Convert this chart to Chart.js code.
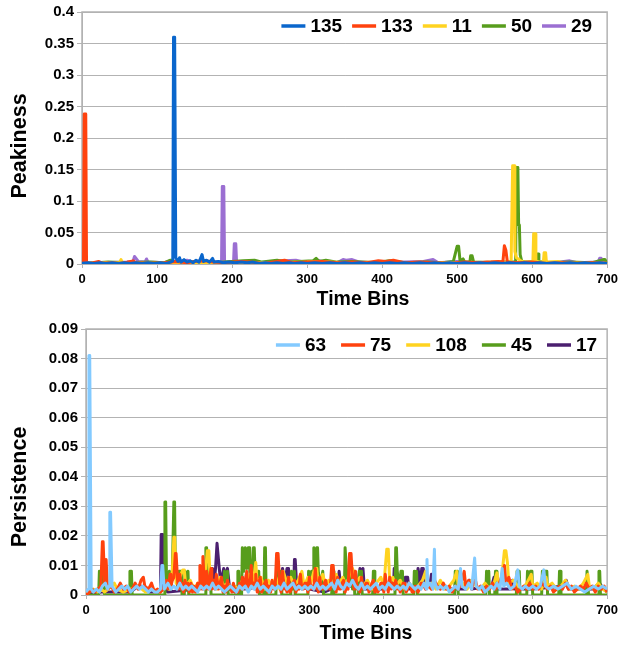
<!DOCTYPE html>
<html>
<head>
<meta charset="utf-8">
<script src="https://cdn.jsdelivr.net/npm/chart.js@4"></script>
<style>
  html, body { margin: 0; padding: 0; background: #fff; }
  #wrap { position: relative; width: 622px; height: 646px; }
  #topBox { position: absolute; left: 0; top: 0; }
  #botBox { position: absolute; left: 0; top: 310px; }
</style>
</head>
<body>
<div id="wrap">
  <div id="topBox"><canvas id="peakChart" width="622" height="310"></canvas></div>
  <div id="botBox"><canvas id="persChart" width="622" height="336"></canvas></div>
</div>
<script>
// top panel: peakiness, [time bin, value]
const peakLabels = ['135', '133', '11', '50', '29'];
const peakColors = ['#0a66cc', '#ff420e', '#ffd320', '#579d1c', '#9b6fd2'];

const peak135 = [[0,0.001],[8,0.002],[16,0.001],[24,0.002],[32,0.001],[40,0.002],[48,0.001],[56,0.002],[64,0.001],[72,0.002],[80,0.001],[88,0.002],[96,0.001],[104,0.002],[112,0.001],[118,0.003],[121,0.005],[122,0.36],[123.5,0.36],[125,0.01],[128,0.004],[130,0.010],[132,0.003],[136,0.007],[140,0.003],[144,0.005],[148,0.002],[152,0.006],[156,0.003],[160,0.015],[162,0.004],[166,0.006],[170,0.003],[174,0.009],[176,0.003],[182,0.004],[188,0.002],[196,0.003],[204,0.002],[212,0.003],[220,0.002],[228,0.003],[236,0.001],[244,0.002],[252,0.001],[260,0.002],[268,0.001],[276,0.002],[284,0.001],[292,0.002],[300,0.001],[310,0.002],[320,0.001],[330,0.002],[340,0.001],[350,0.002],[360,0.001],[370,0.002],[380,0.001],[390,0.002],[400,0.001],[410,0.002],[420,0.001],[430,0.002],[440,0.001],[450,0.002],[460,0.001],[470,0.002],[480,0.001],[490,0.002],[500,0.001],[510,0.002],[520,0.001],[530,0.002],[540,0.001],[550,0.002],[560,0.001],[570,0.002],[580,0.001],[590,0.002],[600,0.001],[610,0.002],[620,0.001],[630,0.002],[640,0.001],[650,0.002],[660,0.001],[670,0.002],[680,0.001],[690,0.002],[700,0.001]];
const peak133 = [[0,0.001],[2,0.002],[3,0.238],[5,0.238],[6,0.004],[8,0.001],[15,0.002],[22,0.004],[28,0.001],[40,0.002],[50,0.001],[60,0.003],[68,0.005],[72,0.002],[90,0.001],[110,0.002],[125,0.004],[140,0.002],[150,0.004],[165,0.005],[175,0.003],[190,0.002],[210,0.004],[225,0.003],[240,0.001],[260,0.004],[270,0.006],[280,0.002],[300,0.003],[320,0.004],[340,0.002],[360,0.003],[380,0.002],[395,0.005],[405,0.004],[415,0.006],[430,0.002],[450,0.003],[470,0.002],[490,0.001],[510,0.003],[530,0.002],[545,0.003],[555,0.004],[561,0.003],[563,0.029],[565,0.022],[567,0.003],[580,0.002],[600,0.003],[620,0.001],[640,0.002],[660,0.001],[680,0.002],[700,0.001]];
const peak11 = [[0,0.001],[30,0.002],[50,0.002],[52,0.007],[54,0.002],[100,0.001],[150,0.002],[200,0.001],[250,0.002],[300,0.003],[315,0.004],[350,0.002],[400,0.003],[450,0.002],[500,0.002],[550,0.003],[572,0.003],[574,0.156],[576,0.156],[577,0.02],[579,0.01],[585,0.005],[590,0.003],[601,0.003],[602,0.048],[604,0.048],[605,0.005],[610,0.003],[615,0.003],[616,0.018],[618,0.018],[619,0.003],[635,0.004],[640,0.002],[700,0.001]];
const peak50 = [[0,0.001],[20,0.002],[35,0.003],[60,0.002],[90,0.003],[110,0.002],[118,0.006],[125,0.002],[150,0.003],[175,0.002],[200,0.004],[215,0.005],[230,0.006],[240,0.003],[260,0.006],[275,0.003],[290,0.004],[308,0.005],[312,0.009],[316,0.004],[325,0.006],[340,0.003],[360,0.004],[390,0.002],[410,0.005],[430,0.002],[460,0.003],[480,0.002],[495,0.004],[500,0.028],[502,0.028],[504,0.004],[508,0.008],[510,0.003],[517,0.003],[518,0.013],[520,0.013],[522,0.003],[540,0.002],[560,0.003],[578,0.003],[579,0.153],[581,0.153],[582,0.062],[583,0.062],[584,0.015],[586,0.005],[590,0.003],[605,0.003],[606,0.016],[608,0.016],[609,0.004],[620,0.002],[650,0.003],[680,0.002],[695,0.007],[697,0.007],[700,0.001]];
const peak29 = [[0,0.001],[30,0.002],[60,0.003],[68,0.004],[70,0.012],[72,0.009],[75,0.004],[84,0.003],[86,0.008],[88,0.003],[110,0.002],[120,0.006],[126,0.003],[140,0.006],[150,0.002],[186,0.003],[187,0.123],[189,0.123],[190,0.003],[202,0.003],[203,0.032],[205,0.032],[206,0.004],[220,0.003],[240,0.002],[270,0.005],[285,0.006],[300,0.002],[314,0.006],[320,0.004],[340,0.002],[348,0.007],[352,0.006],[360,0.007],[370,0.003],[400,0.002],[430,0.003],[455,0.004],[468,0.007],[475,0.002],[500,0.004],[520,0.002],[540,0.003],[560,0.002],[600,0.003],[630,0.002],[650,0.005],[660,0.002],[688,0.003],[690,0.009],[692,0.009],[694,0.003],[700,0.001]];

// bottom panel: persistence
const persLabels = ['63', '75', '108', '45', '17'];
const persColors = ['#83caff', '#ff420e', '#ffd320', '#579d1c', '#4b1f6f'];

const pers63 = [[0,0.001],[3,0.002],[4,0.081],[5,0.081],[7,0.002],[10,0.001],[14,0.002],[18,0.001],[22,0.003],[26,0.004],[29,0.002],[31,0.003],[32,0.028],[33,0.028],[35,0.003],[40,0.001],[44,0.002],[48,0.003],[52,0.002],[56,0.003],[60,0.001],[64,0.002],[68,0.003],[72,0.002],[76,0.003],[80,0.002],[84,0.001],[88,0.002],[92,0.001],[96,0.001],[100,0.002],[102,0.010],[103,0.010],[105,0.002],[110,0.004],[114,0.002],[118,0.003],[122,0.002],[126,0.004],[130,0.002],[134,0.003],[138,0.002],[142,0.003],[146,0.002],[150,0.001],[154,0.003],[158,0.002],[162,0.003],[166,0.002],[170,0.004],[174,0.002],[178,0.003],[182,0.002],[186,0.001],[190,0.002],[194,0.003],[198,0.002],[202,0.001],[206,0.003],[210,0.002],[214,0.003],[218,0.001],[222,0.003],[226,0.002],[230,0.004],[234,0.002],[238,0.003],[242,0.002],[246,0.001],[250,0.003],[254,0.002],[258,0.003],[262,0.002],[266,0.004],[270,0.002],[274,0.003],[278,0.004],[282,0.002],[286,0.003],[290,0.002],[294,0.003],[298,0.002],[302,0.003],[306,0.002],[310,0.004],[314,0.002],[318,0.003],[322,0.002],[326,0.003],[330,0.004],[334,0.002],[338,0.005],[342,0.003],[346,0.002],[350,0.004],[354,0.003],[358,0.005],[362,0.003],[366,0.002],[370,0.004],[374,0.002],[378,0.003],[382,0.002],[386,0.003],[390,0.004],[394,0.002],[398,0.003],[402,0.002],[406,0.004],[410,0.003],[414,0.002],[418,0.003],[422,0.002],[426,0.003],[430,0.002],[434,0.004],[438,0.003],[442,0.002],[446,0.003],[450,0.002],[454,0.004],[457,0.002],[458,0.012],[459,0.003],[462,0.004],[466,0.002],[468,0.0155],[469,0.004],[472,0.002],[476,0.003],[480,0.002],[484,0.003],[488,0.001],[492,0.002],[496,0.003],[500,0.002],[503,0.009],[505,0.003],[510,0.002],[514,0.004],[518,0.002],[522,0.0125],[524,0.003],[528,0.002],[532,0.003],[536,0.001],[540,0.002],[544,0.003],[548,0.002],[552,0.004],[556,0.002],[559,0.009],[561,0.003],[565,0.004],[570,0.002],[575,0.003],[580,0.0085],[582,0.003],[586,0.002],[590,0.003],[595,0.002],[600,0.003],[605,0.002],[610,0.003],[615,0.0085],[617,0.003],[622,0.002],[628,0.003],[634,0.002],[640,0.003],[646,0.004],[652,0.002],[658,0.003],[664,0.002],[670,0.001],[676,0.002],[682,0.003],[688,0.002],[694,0.003],[700,0.002]];
const pers75 = [[0,0],[5,0.001],[8,0.002],[12,0.001],[16,0.002],[20,0.003],[22,0.018],[23,0.018],[25,0.004],[27,0.012],[29,0.002],[34,0.003],[38,0.001],[42,0.002],[46,0.004],[50,0.002],[54,0.003],[58,0.001],[62,0.002],[66,0.004],[70,0.002],[74,0.005],[77,0.006],[79,0.003],[84,0.002],[88,0.004],[92,0.001],[96,0.002],[100,0.001],[104,0.002],[106,0.004],[108,0.005],[110,0.002],[113,0.007],[114,0.003],[116,0.005],[118,0.006],[120,0.014],[121,0.014],[123,0.005],[124,0.002],[126,0.007],[128,0.002],[129,0.004],[131,0.001],[133,0.005],[135,0.002],[137,0.004],[139,0.001],[141,0.004],[143,0.001],[145,0.003],[147,0.001],[150,0.004],[152,0.002],[153,0.010],[155,0.006],[156,0.002],[157,0.013],[159,0.004],[160,0.002],[162,0.008],[164,0.002],[165,0.004],[168,0.009],[169,0.002],[171,0.005],[173,0.002],[175,0.007],[178,0.002],[180,0.004],[182,0.006],[184,0.001],[186,0.003],[188,0.001],[190,0.005],[192,0.002],[194,0.003],[196,0.001],[198,0.004],[200,0.001],[202,0.002],[204,0.001],[206,0.004],[208,0.002],[210,0.006],[211,0.002],[213,0.004],[216,0.008],[217,0.002],[219,0.005],[220,0.002],[222,0.010],[223,0.003],[225,0.004],[227,0.002],[228,0.007],[230,0.001],[231,0.003],[234,0.006],[236,0.001],[238,0.002],[240,0.004],[242,0.005],[244,0.001],[246,0.003],[248,0.001],[250,0.005],[252,0.002],[254,0.002],[256,0.014],[258,0.014],[260,0.004],[262,0.001],[264,0.008],[266,0.002],[268,0.003],[270,0.001],[272,0.006],[274,0.001],[276,0.002],[278,0.004],[280,0.005],[282,0.001],[284,0.003],[286,0.002],[288,0.007],[290,0.002],[292,0.002],[294,0.004],[296,0.004],[298,0.001],[300,0.006],[302,0.002],[304,0.003],[306,0.002],[308,0.009],[310,0.002],[311,0.004],[312,0.001],[314,0.006],[316,0.002],[318,0.002],[320,0.004],[322,0.005],[324,0.002],[326,0.003],[328,0.002],[330,0.010],[332,0.010],[334,0.003],[336,0.001],[338,0.006],[340,0.002],[342,0.002],[344,0.004],[346,0.005],[348,0.001],[350,0.003],[352,0.002],[354,0.014],[356,0.014],[358,0.005],[360,0.002],[362,0.008],[364,0.002],[366,0.003],[368,0.001],[370,0.006],[372,0.002],[374,0.002],[376,0.004],[378,0.004],[380,0.001],[382,0.002],[384,0.004],[386,0.005],[388,0.001],[390,0.003],[392,0.001],[394,0.002],[396,0.004],[398,0.004],[400,0.001],[402,0.007],[404,0.002],[405,0.003],[406,0.001],[408,0.006],[410,0.002],[412,0.004],[414,0.002],[416,0.005],[418,0.002],[420,0.003],[422,0.001],[424,0.002],[426,0.004],[428,0.004],[430,0.001],[432,0.002],[434,0.004],[436,0.003],[438,0.001],[440,0.001],[442,0.003],[444,0.003],[446,0.001],[448,0.002],[450,0.004],[452,0.004],[456,0.002],[460,0.003],[464,0.002],[468,0.005],[472,0.003],[476,0.002],[480,0.004],[484,0.002],[488,0.003],[492,0.001],[496,0.003],[500,0.002],[504,0.004],[508,0.008],[510,0.003],[514,0.005],[518,0.002],[522,0.006],[526,0.002],[530,0.003],[534,0.001],[538,0.003],[542,0.002],[546,0.004],[550,0.002],[554,0.003],[558,0.006],[562,0.010],[564,0.004],[568,0.006],[572,0.002],[576,0.003],[580,0.001],[584,0.002],[588,0.003],[592,0.002],[596,0.004],[600,0.002],[604,0.003],[608,0.002],[612,0.004],[616,0.003],[620,0.002],[624,0.003],[628,0.001],[632,0.002],[636,0.003],[640,0.002],[644,0.004],[648,0.002],[652,0.003],[656,0.001],[660,0.002],[664,0.003],[668,0.002],[672,0.004],[676,0.002],[680,0.003],[684,0.001],[688,0.003],[692,0.002],[696,0.003],[700,0.001]];
const pers108 = [[0,0.001],[10,0.002],[15,0.001],[20,0.002],[25,0.001],[30,0.002],[38,0.004],[42,0.002],[50,0.001],[60,0.002],[70,0.003],[80,0.001],[90,0.002],[100,0.001],[108,0.003],[112,0.002],[116,0.008],[118,0.0195],[119,0.0195],[121,0.004],[126,0.006],[130,0.0085],[132,0.0085],[134,0.003],[140,0.005],[145,0.002],[150,0.004],[155,0.003],[160,0.006],[163,0.015],[165,0.015],[167,0.004],[172,0.005],[176,0.002],[180,0.006],[185,0.003],[190,0.004],[196,0.002],[200,0.003],[205,0.002],[210,0.005],[215,0.003],[220,0.007],[224,0.003],[228,0.011],[230,0.004],[235,0.006],[240,0.002],[245,0.005],[250,0.003],[255,0.006],[260,0.002],[265,0.008],[270,0.004],[275,0.006],[280,0.003],[285,0.005],[290,0.008],[293,0.003],[298,0.006],[302,0.004],[306,0.008],[310,0.009],[312,0.003],[318,0.007],[322,0.003],[326,0.005],[330,0.003],[336,0.007],[340,0.004],[345,0.006],[350,0.003],[355,0.008],[358,0.009],[362,0.004],[368,0.006],[372,0.003],[378,0.005],[384,0.002],[390,0.004],[396,0.006],[400,0.003],[404,0.0155],[406,0.0155],[408,0.004],[412,0.006],[416,0.003],[422,0.005],[428,0.002],[434,0.004],[440,0.002],[446,0.003],[452,0.005],[456,0.008],[458,0.003],[464,0.004],[470,0.002],[476,0.005],[482,0.002],[488,0.003],[494,0.005],[498,0.008],[500,0.003],[506,0.004],[512,0.002],[518,0.005],[524,0.003],[530,0.002],[536,0.004],[542,0.002],[548,0.004],[552,0.0075],[554,0.003],[558,0.005],[562,0.015],[564,0.015],[566,0.011],[568,0.004],[574,0.005],[580,0.003],[586,0.002],[592,0.004],[598,0.007],[600,0.003],[606,0.004],[612,0.002],[618,0.006],[620,0.003],[626,0.004],[632,0.002],[638,0.003],[644,0.005],[650,0.002],[656,0.003],[662,0.002],[668,0.004],[674,0.007],[676,0.003],[682,0.002],[688,0.004],[694,0.002],[700,0.001]];
const pers45 = [[0,0],[17,0],[18,0.008],[20,0.002],[22,0.008],[24,0.008],[25,0],[58,0],[59,0.008],[61,0.008],[62,0],[105,0],[106,0.0315],[107,0.0315],[108,0.008],[110,0.003],[112,0.008],[114,0.002],[116,0.008],[118,0.0315],[119,0.0315],[120,0.008],[123,0.003],[125,0.008],[128,0.008],[129,0],[132,0],[133,0.008],[135,0.002],[137,0.008],[138,0],[160,0],[161,0.016],[162,0.016],[163,0.008],[165,0.003],[167,0.008],[168,0],[185,0],[186,0.008],[188,0.003],[190,0.008],[191,0],[203,0],[204,0.008],[205,0.008],[206,0],[209,0],[210,0.016],[212,0.008],[214,0.016],[216,0.009],[218,0.016],[219,0.016],[220,0.008],[222,0.003],[225,0.016],[226,0.016],[227,0.008],[230,0.004],[232,0.008],[233,0],[239,0],[240,0.016],[241,0.016],[242,0],[255,0],[256,0.008],[258,0.003],[260,0.008],[262,0.008],[263,0],[275,0],[276,0.008],[278,0.002],[280,0.008],[281,0],[298,0],[299,0.008],[301,0.003],[303,0.008],[305,0.008],[306,0.016],[308,0.009],[310,0.016],[311,0.016],[312,0.008],[315,0.003],[318,0.008],[319,0],[330,0],[331,0.008],[332,0.008],[333,0],[347,0],[348,0.016],[349,0.016],[350,0.008],[353,0.003],[356,0.008],[358,0.002],[360,0.008],[361,0],[366,0],[367,0.008],[369,0.003],[370,0.008],[371,0],[385,0],[386,0.008],[387,0.008],[388,0],[415,0],[416,0.016],[417,0.016],[418,0.008],[421,0.003],[423,0.008],[425,0.008],[426,0],[440,0],[441,0.008],[443,0.003],[444,0.008],[445,0],[495,0],[496,0.008],[498,0.003],[499,0.008],[500,0],[537,0],[538,0.008],[540,0.003],[541,0.008],[542,0],[549,0],[550,0.008],[551,0.008],[552,0],[578,0],[579,0.008],[580,0.003],[582,0.008],[583,0],[592,0],[593,0.008],[595,0.002],[597,0.008],[599,0.008],[600,0],[612,0],[613,0.008],[615,0.003],[617,0.008],[619,0.008],[620,0],[635,0],[636,0.008],[637,0.008],[638,0],[672,0],[673,0.008],[674,0.008],[675,0],[688,0],[689,0.008],[690,0.008],[691,0],[700,0]];
const pers17 = [[0,0],[20,0.001],[60,0.001],[70,0.003],[75,0.003],[85,0.001],[100,0.001],[101,0.0205],[103,0.0205],[104,0.002],[110,0.001],[150,0.002],[160,0.003],[168,0.003],[170,0.009],[172,0.004],[174,0.009],[176,0.0175],[177,0.0175],[179,0.009],[181,0.004],[185,0.009],[187,0.006],[190,0.009],[193,0.002],[200,0.001],[210,0.006],[213,0.002],[240,0.003],[262,0.003],[264,0.009],[267,0.004],[270,0.009],[272,0.009],[274,0.003],[279,0.003],[280,0.012],[281,0.012],[283,0.003],[300,0.002],[320,0.001],[338,0.003],[340,0.008],[342,0.003],[365,0.003],[368,0.009],[370,0.004],[372,0.009],[374,0.002],[400,0.002],[413,0.003],[414,0.009],[416,0.004],[417,0.009],[419,0.003],[428,0.003],[429,0.006],[432,0.006],[434,0.002],[445,0.003],[446,0.009],[449,0.004],[451,0.009],[453,0.009],[455,0.003],[462,0.003],[464,0.007],[466,0.003],[490,0.002],[510,0.002],[515,0.005],[518,0.002],[545,0.003],[548,0.006],[550,0.002],[570,0.002],[573,0.005],[575,0.002],[600,0.002],[640,0.003],[645,0.005],[648,0.002],[680,0.002],[690,0.004],[695,0.002],[700,0.001]];

const gridGray = '#b3b3b3';
Chart.defaults.font.family = '"Liberation Sans", Arial, sans-serif';

// grey box round the plot area, under the lines
const frame = {
  id: 'frame',
  beforeDatasetsDraw(chart) {
    const { ctx, chartArea: a } = chart;
    ctx.save();
    ctx.strokeStyle = gridGray;
    ctx.lineWidth = 1.5;
    ctx.strokeRect(a.left, a.top, a.right - a.left, a.bottom - a.top);
    ctx.restore();
  }
};

// legend in one row inside the plot, plus both axis titles
const decor = {
  id: 'decor',
  afterDraw(chart, args, o) {
    const { ctx, chartArea: a } = chart;
    const sets = chart.data.datasets;
    ctx.save();
    ctx.font = 'bold 19px "Liberation Sans"';
    ctx.textBaseline = 'middle';
    let total = 0;
    sets.forEach((d, i) => {
      total += o.line + o.gap + ctx.measureText(d.label).width + (i < sets.length - 1 ? o.space : 0);
    });
    let x = a.right - o.right - total;
    sets.forEach(d => {
      ctx.strokeStyle = d.borderColor;
      ctx.lineWidth = 3.5;
      ctx.beginPath();
      ctx.moveTo(x, o.y);
      ctx.lineTo(x + o.line, o.y);
      ctx.stroke();
      x += o.line + o.gap;
      ctx.fillStyle = '#000';
      ctx.fillText(d.label, x, o.y + 1);
      x += ctx.measureText(d.label).width + o.space;
    });
    ctx.textAlign = 'center';
    ctx.font = 'bold 19.5px "Liberation Sans"';
    ctx.fillText(o.xTitle, o.xTitleX, o.xTitleY);
    ctx.translate(o.yTitleX, o.yTitleY);
    ctx.rotate(-Math.PI / 2);
    ctx.font = 'bold 21.5px "Liberation Sans"';
    ctx.fillText(o.yTitle, 0, 0);
    ctx.restore();
  }
};

function buildChart(id, labels, colors, series, cfg) {
  return new Chart(document.getElementById(id), {
    type: 'line',
    data: {
      datasets: series.map((s, i) => ({
        label: labels[i], data: s,
        borderColor: colors[i], backgroundColor: colors[i],
        borderWidth: cfg.lineW, pointRadius: 0, tension: 0, borderJoinStyle: 'round'
      }))
    },
    options: {
      responsive: false,
      animation: false,
      events: [],
      layout: { padding: { top: cfg.padTop, right: 12, left: 0, bottom: 0 } },
      plugins: { legend: { display: false }, tooltip: { enabled: false }, decor: cfg.decor },
      scales: {
        x: {
          type: 'linear', min: 0, max: 700,
          ticks: { stepSize: 100, color: '#000', maxRotation: 0, padding: 4,
                   font: { weight: 'bold', size: 13 } },
          grid: { drawOnChartArea: false, color: gridGray, tickLength: 4 },
          border: { color: gridGray },
          afterFit: s => { s.height = cfg.xH; }
        },
        y: {
          min: 0, max: cfg.yMax,
          ticks: { stepSize: cfg.yStep, color: '#000', padding: 3,
                   font: { weight: 'bold', size: 15 },
                   callback: v => String(+v.toFixed(3)) },
          grid: { color: gridGray, tickLength: 5 },
          border: { color: gridGray },
          afterFit: s => { s.width = cfg.yW; }
        }
      }
    },
    plugins: [frame, decor]
  });
}

buildChart('peakChart', peakLabels, peakColors, [peak135, peak133, peak11, peak50, peak29], {
  lineW: 3, padTop: 12, xH: 46, yW: 82, yMax: 0.4, yStep: 0.05,
  decor: { line: 24, gap: 5, space: 10, right: 15, y: 26,
           xTitle: 'Time Bins', xTitleX: 363, xTitleY: 300,
           yTitle: 'Peakiness', yTitleX: 20, yTitleY: 146 }
});

buildChart('persChart', persLabels, persColors, [pers63, pers75, pers108, pers45, pers17], {
  lineW: 3, padTop: 19, xH: 51, yW: 86, yMax: 0.09, yStep: 0.01,
  decor: { line: 24, gap: 5, space: 15, right: 10, y: 35,
           xTitle: 'Time Bins', xTitleX: 366, xTitleY: 324,
           yTitle: 'Persistence', yTitleX: 20, yTitleY: 177 }
});
</script>
</body>
</html>
